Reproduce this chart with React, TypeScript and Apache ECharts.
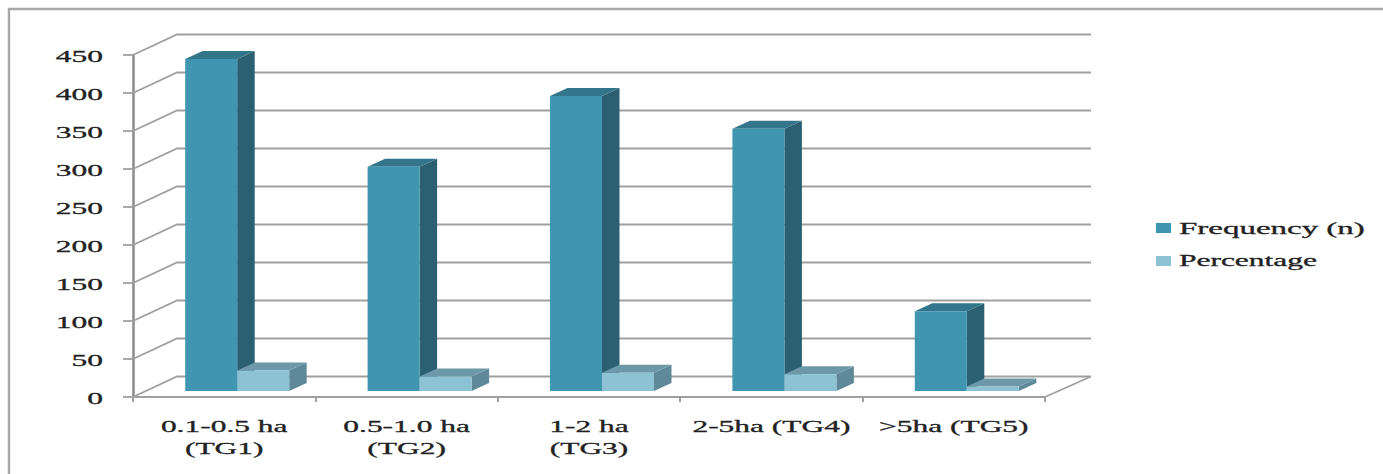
import React, { useEffect, useRef } from "react";
import * as echarts from "echarts";

const categories = ["0.1-0.5 ha\n(TG1)", "0.5-1.0 ha\n(TG2)", "1-2 ha\n(TG3)", "2-5ha (TG4)", ">5ha (TG5)"];
const seriesNames = ["Frequency (n)", "Percentage"];
const frequency = [437, 295, 388, 345, 105];
const percentage = [27, 19, 24, 22, 6];
const yTicks = [0, 50, 100, 150, 200, 250, 300, 350, 400, 450];

const FONT = "Liberation Serif";
const STRETCH = 1.85;
const DEPTH_X = 44, DEPTH_Y = 20.5;
const BAR_DX = 17.5, BAR_DY = 8;
const FLOOR_X = 13, FLOOR_Y = 6;
const BAR_W = 52;
const grey = "#a0a0a0";
const ink = "#222222";

const palette = [
  { front: "#4095b0", side: "#2a6071", top: "#33758a" },
  { front: "#8dc2d5", side: "#5f8999", top: "#6d98a8" },
];

const textStyle = { font: `17px "${FONT}"`, fill: ink, stroke: ink, lineWidth: 0.3 };

function wallItem(params: any, api: any) {
  const cs = params.coordSys;
  const y = api.coord([0, api.value(0)])[1];
  const children: any[] = [
    {
      type: "polyline",
      shape: { points: [[cs.x, y], [cs.x + DEPTH_X, y - DEPTH_Y], [cs.x + cs.width + DEPTH_X + 2, y - DEPTH_Y]] },
      style: { stroke: grey, lineWidth: 1.8, fill: "none" },
    },
  ];
  if (api.value(0) === 0) {
    children.push({
      type: "line",
      shape: { x1: cs.x + cs.width, y1: y, x2: cs.x + cs.width + DEPTH_X + 2, y2: y - DEPTH_Y },
      style: { stroke: grey, lineWidth: 1.8 },
    });
  }
  return { type: "group", children };
}

function tickLabelItem(params: any, api: any) {
  const v = api.value(0);
  const y = api.coord([0, v])[1];
  return {
    type: "text",
    x: 103,
    y: y + 0.5,
    scaleX: STRETCH,
    style: { ...textStyle, text: String(v), align: "right", verticalAlign: "middle" },
  };
}

function catLabelItem(params: any, api: any) {
  const idx = api.value(0);
  const p = api.coord([idx, 0]);
  return {
    type: "text",
    x: p[0],
    y: 415.5,
    scaleX: STRETCH,
    style: { ...textStyle, text: categories[idx], align: "center", verticalAlign: "top", lineHeight: 21.5 },
  };
}

function barItem(seriesIdx: number) {
  return (params: any, api: any) => {
    const c = palette[seriesIdx];
    const idx = api.value(0);
    const top = api.coord([idx, api.value(1)]);
    const base = api.coord([idx, 0]);
    const x0 = base[0] + FLOOR_X + (seriesIdx === 0 ? -BAR_W : 0);
    const x1 = x0 + BAR_W;
    const y0 = base[1] - FLOOR_Y;
    const yT = top[1] - FLOOR_Y;
    return {
      type: "group",
      children: [
        {
          type: "polygon",
          shape: { points: [[x1, yT], [x1 + BAR_DX, yT - BAR_DY], [x1 + BAR_DX, y0 - BAR_DY], [x1, y0]] },
          style: { fill: c.side },
        },
        {
          type: "polygon",
          shape: { points: [[x0, yT], [x0 + BAR_DX, yT - BAR_DY], [x1 + BAR_DX, yT - BAR_DY], [x1, yT]] },
          style: { fill: c.top },
        },
        { type: "rect", shape: { x: x0, y: yT, width: BAR_W, height: y0 - yT }, style: { fill: c.front } },
      ],
    };
  };
}

export default function App() {
  const ref = useRef<HTMLDivElement>(null);
  useEffect(() => {
    document.body.style.margin = "0";
    document.body.style.background = "#ffffff";
    const chart = echarts.init(ref.current!, undefined, { renderer: "svg" });
    chart.setOption({
      animation: false,
      backgroundColor: "#ffffff",
      grid: { left: 133, top: 55, width: 912, height: 342, containLabel: false },
      xAxis: {
        type: "category",
        data: categories,
        axisLine: { lineStyle: { color: grey, width: 2 } },
        axisTick: { show: true, length: 5, alignWithLabel: false, lineStyle: { color: grey, width: 2 } },
        axisLabel: { show: false },
        splitLine: { show: false },
      },
      yAxis: {
        type: "value",
        min: 0,
        max: 450,
        interval: 50,
        axisLine: { show: true, lineStyle: { color: "#8f8f8f", width: 2.6 } },
        axisTick: { show: true, length: 10, lineStyle: { color: grey, width: 1.8 } },
        axisLabel: { show: false },
        splitLine: { show: false },
      },
      graphic: [
        { type: "rect", shape: { x: 9, y: 9, width: 1500, height: 600 }, style: { fill: "none", stroke: "#a8a8a8", lineWidth: 2.4 }, silent: true },
        { type: "rect", shape: { x: 1156, y: 223, width: 15, height: 10 }, style: { fill: palette[0].front } },
        { type: "text", x: 1179, y: 228, scaleX: 1.94, style: { ...textStyle, text: seriesNames[0], verticalAlign: "middle" } },
        { type: "rect", shape: { x: 1156, y: 256, width: 15, height: 10 }, style: { fill: palette[1].front } },
        { type: "text", x: 1179, y: 260, scaleX: STRETCH, style: { ...textStyle, text: seriesNames[1], verticalAlign: "middle" } },
      ],
      series: [
        { type: "custom", z: 1, silent: true, data: yTicks.map((v) => [v]), encode: { y: 0 }, renderItem: wallItem },
        { type: "custom", name: seriesNames[0], z: 3, silent: true, data: frequency.map((v, i) => [i, v]), encode: { x: 0, y: 1 }, renderItem: barItem(0) },
        { type: "custom", name: seriesNames[1], z: 4, silent: true, data: percentage.map((v, i) => [i, v]), encode: { x: 0, y: 1 }, renderItem: barItem(1) },
        { type: "custom", z: 5, silent: true, data: yTicks.map((v) => [v]), encode: { y: 0 }, renderItem: tickLabelItem },
        { type: "custom", z: 5, silent: true, data: categories.map((_, i) => [i]), encode: { x: 0 }, renderItem: catLabelItem },
      ],
    });
    return () => chart.dispose();
  }, []);
  return <div ref={ref} style={{ position: "fixed", left: 0, top: 0, width: 1383, height: 474 }} />;
}
